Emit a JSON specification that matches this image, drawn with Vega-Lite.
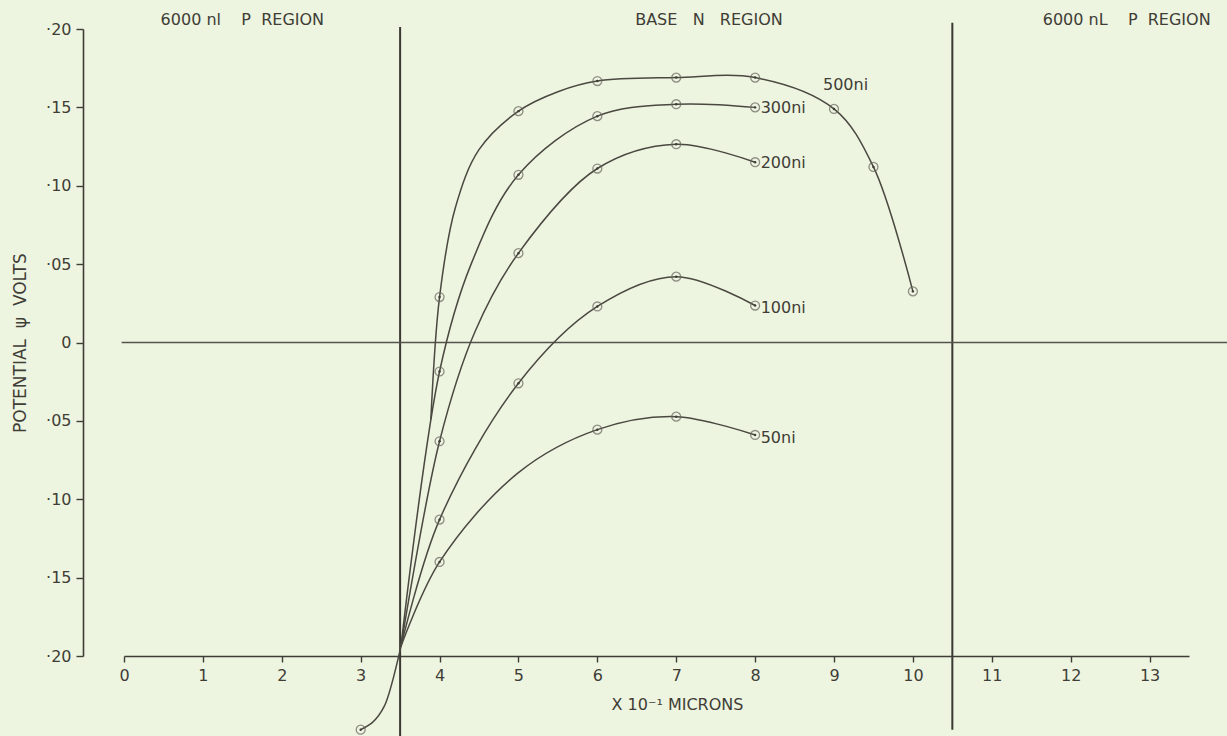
{
  "$schema": "https://vega.github.io/schema/vega-lite/v6.json",
  "autosize": "none",
  "width": 1065,
  "height": 627,
  "padding": {"left": 124, "top": 29, "right": 38, "bottom": 80},
  "background": "#edf4e0",
  "config": {
    "view": {"stroke": null},
    "font": "DejaVu Sans",
    "text": {"font": "DejaVu Sans", "color": "#3f3d36"}
  },
  "datasets": {
    "curves": [
      {"series": "tail", "x": 3.0, "y": -0.247, "m": 1},
      {"series": "tail", "x": 3.3, "y": -0.232, "m": 0},
      {"series": "tail", "x": 3.51, "y": -0.194, "m": 0},

      {"series": "500ni", "x": 3.89, "y": -0.049, "m": 0},
      {"series": "500ni", "x": 4.0, "y": 0.029, "m": 1},
      {"series": "500ni", "x": 4.2, "y": 0.086, "m": 0},
      {"series": "500ni", "x": 4.5, "y": 0.123, "m": 0},
      {"series": "500ni", "x": 5.0, "y": 0.1476, "m": 1},
      {"series": "500ni", "x": 5.5, "y": 0.16, "m": 0},
      {"series": "500ni", "x": 6.0, "y": 0.1668, "m": 1},
      {"series": "500ni", "x": 7.0, "y": 0.169, "m": 1},
      {"series": "500ni", "x": 8.0, "y": 0.169, "m": 1},
      {"series": "500ni", "x": 9.0, "y": 0.149, "m": 1},
      {"series": "500ni", "x": 9.5, "y": 0.112, "m": 1},
      {"series": "500ni", "x": 10.0, "y": 0.0326, "m": 1},

      {"series": "300ni", "x": 3.51, "y": -0.194, "m": 0},
      {"series": "300ni", "x": 4.0, "y": -0.0185, "m": 1},
      {"series": "300ni", "x": 4.4, "y": 0.05, "m": 0},
      {"series": "300ni", "x": 5.0, "y": 0.107, "m": 1},
      {"series": "300ni", "x": 6.0, "y": 0.1444, "m": 1},
      {"series": "300ni", "x": 7.0, "y": 0.152, "m": 1},
      {"series": "300ni", "x": 8.0, "y": 0.15, "m": 1},

      {"series": "200ni", "x": 3.51, "y": -0.194, "m": 0},
      {"series": "200ni", "x": 4.0, "y": -0.063, "m": 1},
      {"series": "200ni", "x": 4.45, "y": 0.007, "m": 0},
      {"series": "200ni", "x": 5.0, "y": 0.057, "m": 1},
      {"series": "200ni", "x": 6.0, "y": 0.111, "m": 1},
      {"series": "200ni", "x": 7.0, "y": 0.1265, "m": 1},
      {"series": "200ni", "x": 8.0, "y": 0.115, "m": 1},

      {"series": "100ni", "x": 3.51, "y": -0.194, "m": 0},
      {"series": "100ni", "x": 4.0, "y": -0.113, "m": 1},
      {"series": "100ni", "x": 5.0, "y": -0.026, "m": 1},
      {"series": "100ni", "x": 6.0, "y": 0.023, "m": 1},
      {"series": "100ni", "x": 7.0, "y": 0.042, "m": 1},
      {"series": "100ni", "x": 8.0, "y": 0.0236, "m": 1},

      {"series": "50ni", "x": 3.51, "y": -0.194, "m": 0},
      {"series": "50ni", "x": 4.0, "y": -0.14, "m": 1},
      {"series": "50ni", "x": 5.0, "y": -0.083, "m": 0},
      {"series": "50ni", "x": 6.0, "y": -0.0556, "m": 1},
      {"series": "50ni", "x": 7.0, "y": -0.0473, "m": 1},
      {"series": "50ni", "x": 8.0, "y": -0.059, "m": 1}
    ],
    "vlines": [
      {"x": 3.5, "y1": 0.2013, "y2": -0.252},
      {"x": 10.5, "y1": 0.204, "y2": -0.247}
    ],
    "hlines": [
      {"x1": -0.03, "x2": 14.0, "y": 0.0}
    ],
    "curveLabels": [
      {"label": "500ni", "x": 8.86, "y": 0.164},
      {"label": "300ni", "x": 8.07, "y": 0.1496},
      {"label": "200ni", "x": 8.07, "y": 0.1145},
      {"label": "100ni", "x": 8.07, "y": 0.022},
      {"label": "50ni", "x": 8.07, "y": -0.061}
    ],
    "headers": [
      {"label": "6000\u00a0nl\u00a0\u00a0\u00a0\u00a0P\u00a0\u00a0REGION", "x": 1.5, "y": 0.2057},
      {"label": "BASE\u00a0\u00a0\u00a0N\u00a0\u00a0\u00a0REGION", "x": 7.415, "y": 0.2057},
      {"label": "6000\u00a0nL\u00a0\u00a0\u00a0\u00a0P\u00a0\u00a0REGION", "x": 12.71, "y": 0.2057}
    ]
  },
  "layer": [
    {
      "data": {"name": "vlines"},
      "mark": {"type": "rule", "color": "#3a3832", "strokeWidth": 2, "clip": false},
      "encoding": {
        "x": {
          "field": "x", "type": "quantitative",
          "scale": {"domain": [0, 13.5], "nice": false, "zero": false},
          "axis": {
            "values": [0, 0.5, 1, 1.5, 2, 2.5, 3, 3.5, 4, 4.5, 5, 5.5, 6, 6.5, 7, 7.5, 8, 8.5, 9, 9.5, 10, 10.5, 11, 11.5, 12, 12.5, 13, 13.5],
            "labelExpr": "datum.value % 1 == 0 ? format(datum.value, 'd') : ''",
            "grid": false,
            "domainColor": "#3f3d36",
            "domainWidth": 1.6,
            "tickColor": "#3f3d36",
            "tickWidth": 1.4,
            "tickSize": 6,
            "labelFont": "DejaVu Sans",
            "labelFontSize": 16,
            "labelColor": "#3f3d36",
            "labelPadding": 5,
            "labelFlush": false,
            "labelOverlap": false,
            "title": "X 10⁻¹ MICRONS",
            "titleFont": "DejaVu Sans",
            "titleFontSize": 16,
            "titleFontWeight": "normal",
            "titleColor": "#3f3d36",
            "titleX": 553,
            "titleY": 40,
            "titleAlign": "center",
            "titleBaseline": "top"
          }
        },
        "y": {
          "field": "y1", "type": "quantitative",
          "scale": {"domain": [-0.2, 0.2], "nice": false, "zero": false},
          "axis": {
            "values": [-0.2, -0.15, -0.1, -0.05, 0, 0.05, 0.1, 0.15, 0.2],
            "labelExpr": "datum.value == 0 ? '0' : '·' + format(round(abs(datum.value) * 100), '02d')",
            "grid": false,
            "offset": 41,
            "domainColor": "#3f3d36",
            "domainWidth": 1.6,
            "tickColor": "#3f3d36",
            "tickWidth": 1.4,
            "tickSize": 7,
            "labelFont": "DejaVu Sans",
            "labelFontSize": 16,
            "labelColor": "#3f3d36",
            "labelPadding": 5,
            "labelFlush": false,
            "labelOverlap": false,
            "title": "POTENTIAL\u00a0\u00a0ψ\u00a0\u00a0VOLTS",
            "titleFont": "DejaVu Sans",
            "titleFontSize": 17,
            "titleFontWeight": "normal",
            "titleColor": "#3f3d36",
            "titlePadding": 16
          }
        },
        "y2": {"field": "y2"}
      }
    },
    {
      "data": {"name": "hlines"},
      "mark": {"type": "rule", "color": "#55534b", "strokeWidth": 1.3, "clip": false},
      "encoding": {
        "x": {"field": "x1", "type": "quantitative"},
        "x2": {"field": "x2"},
        "y": {"field": "y", "type": "quantitative"}
      }
    },
    {
      "data": {"name": "curves"},
      "transform": [{"filter": "datum.series != 'tail'"}],
      "mark": {"type": "line", "interpolate": "catmull-rom", "color": "#4a4840", "strokeWidth": 1.5, "clip": false},
      "encoding": {
        "x": {"field": "x", "type": "quantitative"},
        "y": {"field": "y", "type": "quantitative"},
        "detail": {"field": "series"},
        "order": {"field": "x", "type": "quantitative"}
      }
    },
    {
      "data": {"name": "curves"},
      "transform": [{"filter": "datum.series == 'tail'"}],
      "mark": {"type": "line", "interpolate": "monotone", "color": "#4a4840", "strokeWidth": 1.5, "clip": false},
      "encoding": {
        "x": {"field": "x", "type": "quantitative"},
        "y": {"field": "y", "type": "quantitative"},
        "order": {"field": "x", "type": "quantitative"}
      }
    },
    {
      "data": {"name": "curves"},
      "transform": [{"filter": "datum.m == 1"}],
      "mark": {"type": "point", "shape": "circle", "filled": false, "size": 80, "color": "#66645b", "strokeWidth": 1.3, "clip": false},
      "encoding": {
        "x": {"field": "x", "type": "quantitative"},
        "y": {"field": "y", "type": "quantitative"}
      }
    },
    {
      "data": {"name": "curves"},
      "transform": [{"filter": "datum.m == 1"}],
      "mark": {"type": "point", "shape": "circle", "filled": true, "size": 6, "color": "#3f3d36", "opacity": 1, "clip": false},
      "encoding": {
        "x": {"field": "x", "type": "quantitative"},
        "y": {"field": "y", "type": "quantitative"}
      }
    },
    {
      "data": {"name": "curveLabels"},
      "mark": {"type": "text", "align": "left", "baseline": "middle", "fontSize": 16, "font": "DejaVu Sans", "color": "#3f3d36", "clip": false},
      "encoding": {
        "x": {"field": "x", "type": "quantitative"},
        "y": {"field": "y", "type": "quantitative"},
        "text": {"field": "label"}
      }
    },
    {
      "data": {"name": "headers"},
      "mark": {"type": "text", "align": "center", "baseline": "middle", "fontSize": 16, "font": "DejaVu Sans", "color": "#3f3d36", "clip": false},
      "encoding": {
        "x": {"field": "x", "type": "quantitative"},
        "y": {"field": "y", "type": "quantitative"},
        "text": {"field": "label"}
      }
    }
  ]
}
